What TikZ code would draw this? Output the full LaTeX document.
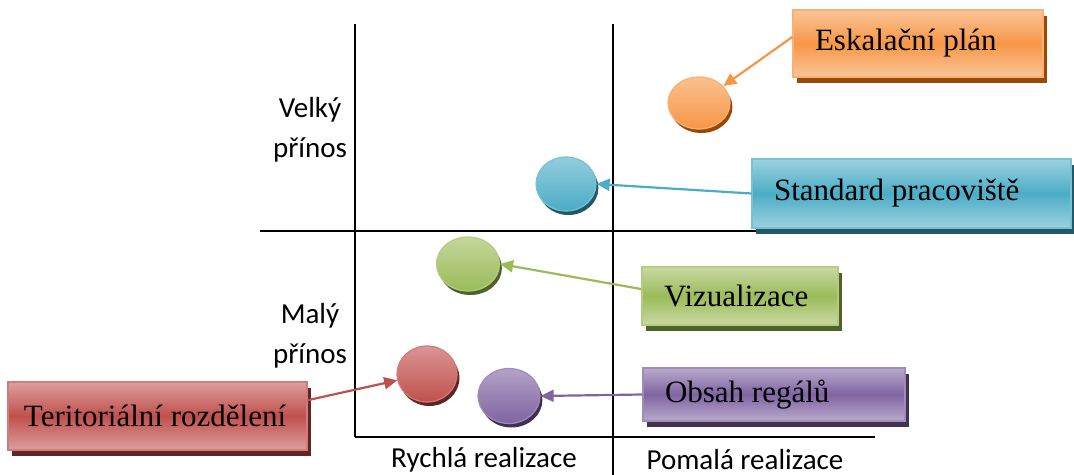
\documentclass[tikz,border=0pt]{standalone}
\usepackage{fontspec}
\setmainfont{Liberation Serif}
\newfontfamily\calibfont{Carlito}
\usepackage{xcolor}
\usepackage{tikz}
\usetikzlibrary{positioning,shapes,shadows,arrows.meta}
\definecolor{org}{HTML}{F79646}
\definecolor{orgdk}{HTML}{984807}
\definecolor{teal}{HTML}{4BACC6}
\definecolor{tealdk}{HTML}{215968}
\definecolor{grn}{HTML}{9BBB59}
\definecolor{grndk}{HTML}{4F6228}
\definecolor{rd}{HTML}{C0504D}
\definecolor{rddk}{HTML}{632523}
\definecolor{pur}{HTML}{8064A2}
\definecolor{purdk}{HTML}{3F3151}

\begin{document}
\begin{tikzpicture}[x=0.5pt,y=-0.5pt,
    grid/.style={line width=1pt,black},
    axis/.style={font=\calibfont\fontsize{14.5}{20}\selectfont,align=center,inner sep=1pt},
    box/.style={rectangle,draw=#1!75!white,line width=0.6pt,
      top color=#1!55!white,bottom color=#1!55!white,middle color=#1,
      align=flush left,inner xsep=11pt,inner ysep=0pt,
      font=\fontsize{15.5}{18}\selectfont,
      drop shadow={shadow xshift=2pt,shadow yshift=-3pt,fill=#1dk,opacity=1}},
    bubble/.style={ellipse,draw=#1!75!white,line width=0.6pt,inner sep=0pt,
      top color=#1!60!white,bottom color=#1,
      drop shadow={shadow xshift=1.2pt,shadow yshift=-2pt,fill=#1dk,opacity=1}},
    link/.style={draw=#1,line width=1.1pt,-{Triangle[length=6.5pt,width=6pt]}}]
  \useasboundingbox (0,0) rectangle (1074,475);

  \draw[grid] (355,24) -- (355,437);
  \draw[grid] (613,24) -- (613,475);
  \draw[grid] (260,231) -- (1000,231);
  \draw[grid] (355,437) -- (875,437);

  \node[axis] (velky) at (310,130) {Velký\\přínos};
  \node[axis] (maly) at (310,336) {Malý\\přínos};
  \node[axis] (rychla) at (484,460) {Rychlá realizace};
  \node[axis] (pomala) at (745,460) {Pomalá realizace};

  \node[box=org,text width=103pt,minimum height=33.5pt] (eskal) at (918,43.5) {Eskalační plán};
  \node[box=teal,text width=137.5pt,minimum height=34.5pt] (stand) at (911.5,193.5) {Standard pracoviště};
  \node[box=grn,text width=76pt,minimum height=29pt] (vizu) at (740,296) {Vizualizace};
  \node[box=pur,text width=109pt,minimum height=26.5pt] (obsah) at (774,394.5) {Obsah regálů};
  \node[box=rd,inner xsep=8pt,text width=133.5pt,minimum height=34pt] (terit) at (157.5,416) {Teritoriální~rozdělení};

  \node[bubble=org,minimum width=31pt,minimum height=26pt] (eskaldot) at (699,103) {};
  \node[bubble=teal,minimum width=30pt,minimum height=27pt] (standdot) at (566,184) {};
  \node[bubble=grn,minimum width=31.5pt,minimum height=27pt] (vizudot) at (468,264) {};
  \node[bubble=pur,minimum width=31pt,minimum height=27.5pt] (obsahdot) at (509,396) {};
  \node[bubble=rd,minimum width=30pt,minimum height=28pt] (teritdot) at (427,374) {};

  \draw[link=org] (eskal.177) -- (eskaldot.35);
  \draw[link=teal] (stand.west) -- (standdot.east);
  \draw[link=grn] (vizu.176) -- (vizudot.east);
  \draw[link=pur] (obsah.west) -- (obsahdot.east);
  \draw[link=rd] (terit.6) -- (teritdot.192);
\end{tikzpicture}
\end{document}
